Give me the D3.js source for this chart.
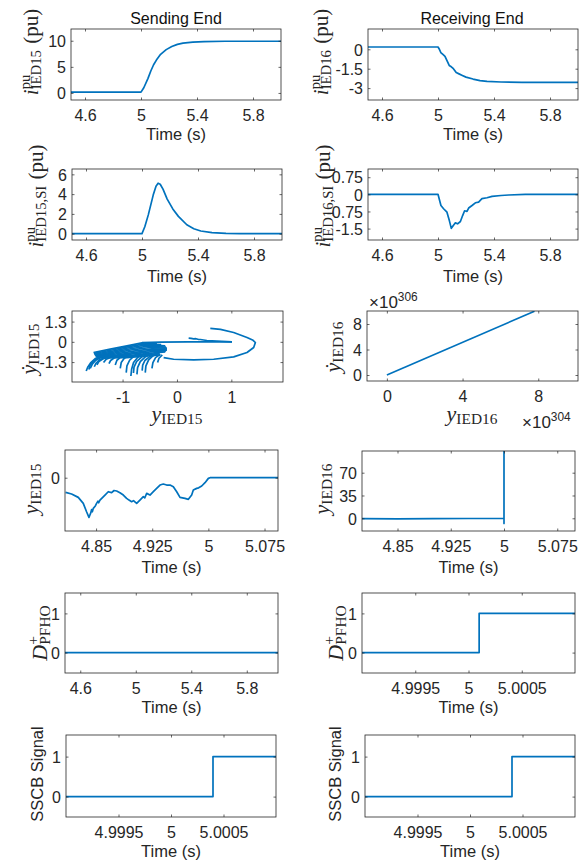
<!DOCTYPE html>
<html>
<head>
<meta charset="utf-8">
<script src="https://cdn.jsdelivr.net/npm/d3@7"></script>
<style>
  body { margin: 0; background: #fff; }
</style>
</head>
<body>
<svg id="fig" width="584" height="865"></svg>
<script>
// ---- data ----

// row 1: terminal currents (pu)
const tI15 = [4.5, 5.0, 5.02, 5.05, 5.07, 5.09, 5.11, 5.14, 5.18, 5.22, 5.26, 5.3, 5.37, 5.45, 5.6, 6.0];
const i15 = [0.15, 0.15, 1.0, 2.8, 4.2, 5.4, 6.3, 7.4, 8.3, 8.9, 9.3, 9.55, 9.75, 9.85, 9.9, 9.9];
const tI16 = [4.5, 5.0, 5.01, 5.02, 5.035, 5.05, 5.065, 5.08, 5.095, 5.11, 5.13, 5.15, 5.17, 5.2, 5.25, 5.3, 5.35, 5.45, 5.6, 6.0];
const i16 = [0.18, 0.18, 0.0, -0.25, -0.4, -0.55, -0.9, -1.25, -1.35, -1.5, -1.8, -1.9, -2.0, -2.15, -2.3, -2.42, -2.48, -2.53, -2.55, -2.55];

// row 2: superimposed currents (pu)
const tSI15 = [4.5, 5.0, 5.02, 5.045, 5.08, 5.1, 5.115, 5.13, 5.15, 5.18, 5.22, 5.26, 5.32, 5.37, 5.42, 5.5, 5.6, 5.7, 6.0];
const iSI15 = [0, 0, 0.7, 1.9, 3.9, 4.8, 5.1, 5.0, 4.5, 3.5, 2.5, 1.75, 0.9, 0.5, 0.27, 0.1, 0.03, 0, 0];
const tSI16 = [4.5, 5.0, 5.021, 5.04, 5.064, 5.081, 5.095, 5.112, 5.124, 5.14, 5.16, 5.176, 5.19, 5.207, 5.219, 5.243, 5.267, 5.29, 5.314, 5.35, 5.386, 5.45, 5.505, 5.624, 6.0];
const iSI16 = [0, 0, -0.49, -0.63, -0.78, -1.15, -1.49, -1.34, -1.25, -1.29, -1.19, -0.93, -0.72, -0.75, -0.6, -0.49, -0.37, -0.34, -0.19, -0.15, -0.09, -0.05, -0.03, 0, 0];

// row 3: phase portrait, sending end (y, dy) strands
const phaseLoop15 = [[0.613, 0.86], [0.8, 0.8], [1.043, 0.602], [1.288, 0.28], [1.4, 0.1], [1.442, -0.043], [1.411, -0.366], [1.288, -0.688], [1.043, -0.968], [0.675, -1.118], [0.307, -1.161], [-0.061, -1.118], [-0.245, -1.011]];
const phaseRay15 = [[-0.644, -0.043], [-0.3, -0.02], [0.2, -0.005], [1.012, 0]];
const phaseHook15 = [[0.215, 0.237], [0.26, 0.22], [0.307, 0.194], [0.35, 0.2], [0.4, 0.151], [0.43, 0.15], [0.55, 0.086], [1.012, 0]];
const phaseBody15 = [
  [[-1.534, -0.688], [-1.227, -0.473], [-0.92, -0.258], [-0.644, -0.065], [-0.368, -0.108]],
  [[-1.528, -0.742], [-1.196, -0.527], [-0.89, -0.312], [-0.598, -0.13], [-0.29, -0.18]],
  [[-1.521, -0.796], [-1.166, -0.581], [-0.859, -0.366], [-0.552, -0.194], [-0.215, -0.258]],
  [[-1.512, -0.85], [-1.15, -0.645], [-0.828, -0.43], [-0.52, -0.28], [-0.2, -0.334]],
  [[-1.503, -0.903], [-1.135, -0.71], [-0.798, -0.495], [-0.491, -0.366], [-0.184, -0.409]],
  [[-1.488, -0.935], [-1.12, -0.775], [-0.767, -0.58], [-0.46, -0.452], [-0.184, -0.473]],
  [[-1.472, -0.968], [-1.104, -0.839], [-0.736, -0.667], [-0.429, -0.538], [-0.184, -0.538]],
  [[-1.44, -0.99], [-1.073, -0.892], [-0.705, -0.73], [-0.398, -0.613], [-0.2, -0.59]],
  [[-1.411, -1.011], [-1.043, -0.946], [-0.675, -0.796], [-0.368, -0.688], [-0.215, -0.645]],
  [[-1.32, -1.011], [-0.98, -0.978], [-0.644, -0.86], [-0.337, -0.763]],
  [[-1.227, -1.011], [-0.92, -1.011], [-0.613, -0.925], [-0.307, -0.839]]
];
const phaseFeathers15 = [
  [[-1.669, -1.871], [-1.638, -1.613], [-1.583, -1.333], [-1.503, -1.075], [-1.38, -0.903]],
  [[-1.62, -1.78], [-1.6, -1.52], [-1.54, -1.25], [-1.44, -1.02], [-1.3, -0.86]],
  [[-1.595, -1.699], [-1.558, -1.441], [-1.491, -1.183], [-1.38, -0.968], [-1.227, -0.796]],
  [[-1.52, -1.6], [-1.49, -1.38], [-1.42, -1.15], [-1.3, -0.97]],
  [[-1.472, -1.484], [-1.436, -1.269], [-1.35, -1.075], [-1.196, -0.903]],
  [[-1.35, -1.333], [-1.301, -1.118], [-1.196, -0.968]],
  [[-1.25, -1.4], [-1.22, -1.2], [-1.15, -1.02], [-1.03, -0.88]],
  [[-1.135, -1.484], [-1.104, -1.183], [-1.031, -0.968], [-0.89, -0.796]],
  [[-1.043, -1.699], [-1.025, -1.333], [-0.969, -1.054], [-0.859, -0.86]],
  [[-0.933, -1.978], [-0.92, -1.548], [-0.871, -1.183], [-0.785, -0.903], [-0.644, -0.667]],
  [[-0.847, -2.194], [-0.834, -1.763], [-0.798, -1.333], [-0.724, -1.011], [-0.601, -0.753]],
  [[-0.8, -2.0], [-0.79, -1.62], [-0.74, -1.25], [-0.65, -0.98], [-0.52, -0.78]],
  [[-0.736, -2.086], [-0.724, -1.656], [-0.675, -1.269], [-0.583, -0.968], [-0.46, -0.753]],
  [[-0.64, -1.85], [-0.63, -1.5], [-0.59, -1.2], [-0.5, -0.95], [-0.38, -0.76]],
  [[-0.583, -1.978], [-0.571, -1.548], [-0.521, -1.161], [-0.442, -0.903], [-0.319, -0.71]],
  [[-0.46, -1.699], [-0.442, -1.333], [-0.393, -1.011], [-0.307, -0.796]],
  [[-0.356, -1.333], [-0.331, -1.054], [-0.27, -0.839]]
];

// row 3: phase portrait, receiving end (diverged)
const y16Phase = [0, 7.8e304];
const dy16Phase = [0, 1.0e307];

// row 4: integrator state around inception
const tY15 = [4.8093, 4.8173, 4.8262, 4.8329, 4.8373, 4.8405, 4.8418, 4.8427, 4.844, 4.845, 4.8463, 4.849, 4.8507, 4.8525, 4.8535, 4.8552,
  4.8619, 4.8663, 4.8708, 4.874, 4.8775, 4.8819, 4.8864, 4.8908, 4.894, 4.8975, 4.9, 4.9042, 4.9086,
  4.9131, 4.9150, 4.9176, 4.922, 4.9265, 4.9309, 4.9354, 4.9398, 4.9443, 4.9488, 4.9532,
  4.9577, 4.9621, 4.9688, 4.9733, 4.9777, 4.9799, 4.9844, 4.987, 4.9911, 4.9955, 5.0, 5.0022, 5.0936];
const y15 = [-0.275, -0.306, -0.369, -0.481, -0.638, -0.744, -0.7, -0.669, -0.6, -0.64, -0.575, -0.53, -0.481, -0.44, -0.47, -0.419,
  -0.325, -0.263, -0.281, -0.24, -0.25, -0.281, -0.325, -0.388, -0.42, -0.45, -0.43, -0.481, -0.419,
  -0.356, -0.38, -0.294, -0.325, -0.263, -0.2, -0.1375, -0.119, -0.1375, -0.1375, -0.169,
  -0.263, -0.369, -0.388, -0.406, -0.325, -0.231, -0.2, -0.19, -0.156, -0.094, -0.0125, 0, 0];
const tY16 = [4.8, 4.85, 4.9, 4.95, 5.0, 5.0, 5.0];
const y16 = [-0.5, -0.8, -0.4, -0.3, -0.2, -8, 300];

// row 5: PFHO decision
const tD15 = [4.49, 6.03];
const d15 = [0, 0];
const tD16 = [4.999, 5.0001, 5.0001, 5.001];
const d16 = [0, 0, 1, 1];

// row 6: SSCB trip signal
const tS15 = [4.999, 5.0004, 5.0004, 5.001];
const s15 = [0, 0, 1, 1];
const tS16 = [4.999, 5.0004, 5.0004, 5.001];
const s16 = [0, 0, 1, 1];

// ticks
const ticksTimeWide = [4.6, 5, 5.4, 5.8];
const ticksTimeZoom = [4.85, 4.925, 5, 5.075];
const ticksTimeMicro = [4.9995, 5, 5.0005];
const ticksI15 = [0, 5, 10];
const ticksI16 = [-3, -1.5, 0];
const ticksSI15 = [0, 2, 4, 6];
const ticksSI16 = [-1.5, -0.75, 0, 0.75];
const ticksPhaseX15 = [-1, 0, 1];
const ticksPhaseY15 = [-1.3, 0, 1.3];
const ticksPhaseX16 = [0, 4e304, 8e304];
const ticksPhaseY16 = [0, 4e306, 8e306];
const ticksY15 = [0];
const ticksY16 = [0, 35, 70];
const ticksBinary = [0, 1];

// ---- drawing ----
const svg = d3.select('#fig');
const blue = '#0072bd';
const ink = '#262626';
const sans = '"Liberation Sans", Arial, Helvetica, sans-serif';
const serif = '"Liberation Serif", "Times New Roman", "DejaVu Serif", serif';
const tickLen = 2.5;

const fmt = d => String(+d.toFixed(6));
const zip = (a, b) => a.map((v, k) => [v, b[k]]);

// label with italic symbol, stacked super/subscripts
function mathLabel(parent, parts, size, family) {
  const text = parent.append('text').attr('font-family', family).attr('fill', ink);
  let cursor = 0;
  let scriptStart = 0;
  let scriptEnd = 0;
  parts.forEach((p) => {
    const fs = (p.sup || p.sub) ? size * 0.7 : size;
    const px = p.stack ? scriptStart : cursor + (p.gap || 0) * size;
    const span = text.append('tspan')
      .attr('x', px)
      .attr('y', p.sup ? -size * 0.4 : p.sub ? size * 0.15 : 0)
      .attr('font-size', fs)
      .attr('font-style', p.it ? 'italic' : 'normal')
      .text(p.t);
    const w = span.node().getComputedTextLength();
    if (p.stack) {
      cursor = Math.max(scriptEnd, px + w);
    } else {
      scriptStart = px + w;
      scriptEnd = px + w;
      cursor = px + w;
    }
    if (p.sup || p.sub) scriptStart = px;
  });
  return { text, width: cursor };
}

function yLabel(x, cy, parts, family, size) {
  const g = svg.append('g').attr('transform', `translate(${x},${cy}) rotate(-90)`);
  const { text, width } = mathLabel(g, parts, size, family);
  text.attr('transform', `translate(${-width / 2},0)`);
}

function hLabel(cx, y, parts, family, size, anchor) {
  const g = svg.append('g').attr('transform', `translate(${cx},${y})`);
  const { text, width } = mathLabel(g, parts, size, family);
  if (anchor !== 'start') text.attr('transform', `translate(${-width / 2},0)`);
}

const panels = [
  { box: [71, 29, 281, 100], xd: [4.5, 6.0], yd: [-1.35, 12.25], xt: ticksTimeWide, yt: ticksI15,
    series: [zip(tI15, i15)], timeY: 39.5 },
  { box: [368, 29, 578, 100], xd: [4.5, 6.0], yd: [-3.92, 1.57], xt: ticksTimeWide, yt: ticksI16,
    series: [zip(tI16, i16)], timeY: 39.5 },
  { box: [72, 169, 282, 240], xd: [4.5, 6.0], yd: [-0.64, 6.54], xt: ticksTimeWide, yt: ticksSI15,
    series: [zip(tSI15, iSI15)], timeY: 42 },
  { box: [368, 169, 578, 240], xd: [4.5, 6.0], yd: [-2.0, 1.11], xt: ticksTimeWide, yt: ticksSI16,
    series: [zip(tSI16, iSI16)], timeY: 42 },
  { box: [72, 311, 283, 382], xd: [-1.93, 1.95], yd: [-2.58, 1.98], xt: ticksPhaseX15, yt: ticksPhaseY15,
    series: [phaseLoop15, phaseRay15, phaseHook15, ...phaseBody15, ...phaseFeathers15] },
  { box: [367, 311, 578, 381], xd: [-1.05e304, 10.1e304], yd: [-0.94e306, 10.04e306], xt: ticksPhaseX16, yt: ticksPhaseY16,
    series: [zip(y16Phase, dy16Phase)],
    xf: d => fmt(d / 1e304), yf: d => fmt(d / 1e306) },
  { box: [65, 450, 278, 531], xd: [4.8085, 5.093], yd: [-1.0, 0.52], xt: ticksTimeZoom, yt: ticksY15,
    series: [zip(tY15, y15)], timeY: 42 },
  { box: [362, 451, 575, 531], xd: [4.8, 5.1], yd: [-19.5, 103.3], xt: ticksTimeZoom, yt: ticksY16,
    series: [zip(tY16, y16)], timeY: 42 },
  { box: [65, 593, 278, 673], xd: [4.49, 6.025], yd: [-0.52, 1.52], xt: ticksTimeWide, yt: ticksBinary,
    series: [zip(tD15, d15)], timeY: 40 },
  { box: [362, 593, 575, 673], xd: [4.999, 5.001], yd: [-0.52, 1.52], xt: ticksTimeMicro, yt: ticksBinary,
    series: [zip(tD16, d16)], timeY: 40 },
  { box: [66, 735, 276, 817], xd: [4.999, 5.001], yd: [-0.51, 1.54], xt: ticksTimeMicro, yt: ticksBinary,
    series: [zip(tS15, s15)], timeY: 40 },
  { box: [365, 735, 575, 817], xd: [4.999, 5.001], yd: [-0.51, 1.54], xt: ticksTimeMicro, yt: ticksBinary,
    series: [zip(tS16, s16)], timeY: 40 },
];

panels.forEach((p, k) => {
  const [x0, y0, x1, y1] = p.box;
  const x = d3.scaleLinear().domain(p.xd).range([x0, x1]);
  const y = d3.scaleLinear().domain(p.yd).range([y1, y0]);
  const g = svg.append('g');

  svg.append('clipPath').attr('id', `clip${k}`)
    .append('rect').attr('x', x0).attr('y', y0).attr('width', x1 - x0).attr('height', y1 - y0);

  const line = d3.line().x(d => x(d[0])).y(d => y(d[1]));
  g.append('g').attr('clip-path', `url(#clip${k})`)
    .selectAll('path')
    .data(p.series)
    .join('path')
    .attr('d', line)
    .attr('fill', 'none')
    .attr('stroke', blue)
    .attr('stroke-width', 1.7)
    .attr('stroke-linejoin', 'round');

  const xf = p.xf || fmt;
  const yf = p.yf || fmt;

  const bottom = g.append('g').attr('transform', `translate(0,${y1})`)
    .call(d3.axisBottom(x).tickValues(p.xt).tickSize(-tickLen).tickFormat(xf));
  bottom.selectAll('text').attr('y', 21).attr('dy', null);
  g.append('g').attr('transform', `translate(0,${y0})`)
    .call(d3.axisTop(x).tickValues(p.xt).tickSize(-tickLen).tickFormat(''));
  const left = g.append('g').attr('transform', `translate(${x0},0)`)
    .call(d3.axisLeft(y).tickValues(p.yt).tickSize(-tickLen).tickFormat(yf));
  left.selectAll('text').attr('x', -5).attr('dy', '0.36em');
  g.append('g').attr('transform', `translate(${x1},0)`)
    .call(d3.axisRight(y).tickValues(p.yt).tickSize(-tickLen).tickFormat(''));

  g.selectAll('.domain').remove();
  g.selectAll('.tick line').attr('stroke', ink).attr('stroke-width', 0.7);
  g.selectAll('.tick text')
    .attr('fill', ink)
    .attr('font-family', sans)
    .attr('font-size', 16);

  g.append('rect')
    .attr('x', x0).attr('y', y0).attr('width', x1 - x0).attr('height', y1 - y0)
    .attr('fill', 'none').attr('stroke', ink).attr('stroke-width', 0.8);

  if (p.timeY) {
    svg.append('text')
      .attr('x', (x0 + x1) / 2).attr('y', y1 + p.timeY)
      .attr('text-anchor', 'middle')
      .attr('font-family', sans).attr('font-size', 16.5).attr('fill', ink)
      .text('Time (s)');
  }
});

// column titles
svg.append('text').attr('x', 176).attr('y', 24).attr('text-anchor', 'middle')
  .attr('font-family', sans).attr('font-size', 16).attr('fill', '#111').text('Sending End');
svg.append('text').attr('x', 472).attr('y', 24).attr('text-anchor', 'middle')
  .attr('font-family', sans).attr('font-size', 16).attr('fill', '#111').text('Receiving End');

// y labels
const ls = 21;
yLabel(38, 52, [{ t: 'i', it: true }, { t: 'pu', sup: true }, { t: 'IED15', sub: true, stack: true }, { t: '(pu)', gap: 0.3 }], serif, ls);
yLabel(328, 52, [{ t: 'i', it: true }, { t: 'pu', sup: true }, { t: 'IED16', sub: true, stack: true }, { t: '(pu)', gap: 0.3 }], serif, ls);
yLabel(43, 196, [{ t: 'i', it: true }, { t: 'pu', sup: true }, { t: 'IED15,SI', sub: true, stack: true }, { t: '(pu)', gap: 0.3 }], serif, ls);
yLabel(330, 196, [{ t: 'i', it: true }, { t: 'pu', sup: true }, { t: 'IED16,SI', sub: true, stack: true }, { t: '(pu)', gap: 0.3 }], serif, ls);
yLabel(36, 349, [{ t: 'ẏ', it: true }, { t: 'IED15', sub: true }], serif, ls + 1);
yLabel(340, 347, [{ t: 'ẏ', it: true }, { t: 'IED16', sub: true }], serif, ls + 1);
yLabel(38, 489, [{ t: 'y', it: true }, { t: 'IED15', sub: true }], serif, ls + 1);
yLabel(329, 489, [{ t: 'y', it: true }, { t: 'IED16', sub: true }], serif, ls + 1);
yLabel(47, 633, [{ t: 'D', it: true }, { t: '+', sup: true }, { t: 'PFHO', sub: true, stack: true }], serif, ls + 1);
yLabel(343, 633, [{ t: 'D', it: true }, { t: '+', sup: true }, { t: 'PFHO', sub: true, stack: true }], serif, ls + 1);
yLabel(43, 774, [{ t: 'SSCB Signal' }], sans, 16.5);
yLabel(341, 774, [{ t: 'SSCB Signal' }], sans, 16.5);

// phase-plane x labels and exponent notes
hLabel(177, 421, [{ t: 'y', it: true }, { t: 'IED15', sub: true }], serif, ls + 1);
hLabel(472, 421, [{ t: 'y', it: true }, { t: 'IED16', sub: true }], serif, ls + 1);
hLabel(522, 428, [{ t: '×10' }, { t: '304', sup: true }], sans, 17, 'start');
hLabel(369, 308, [{ t: '×10' }, { t: '306', sup: true }], sans, 17, 'start');
</script>
</body>
</html>
